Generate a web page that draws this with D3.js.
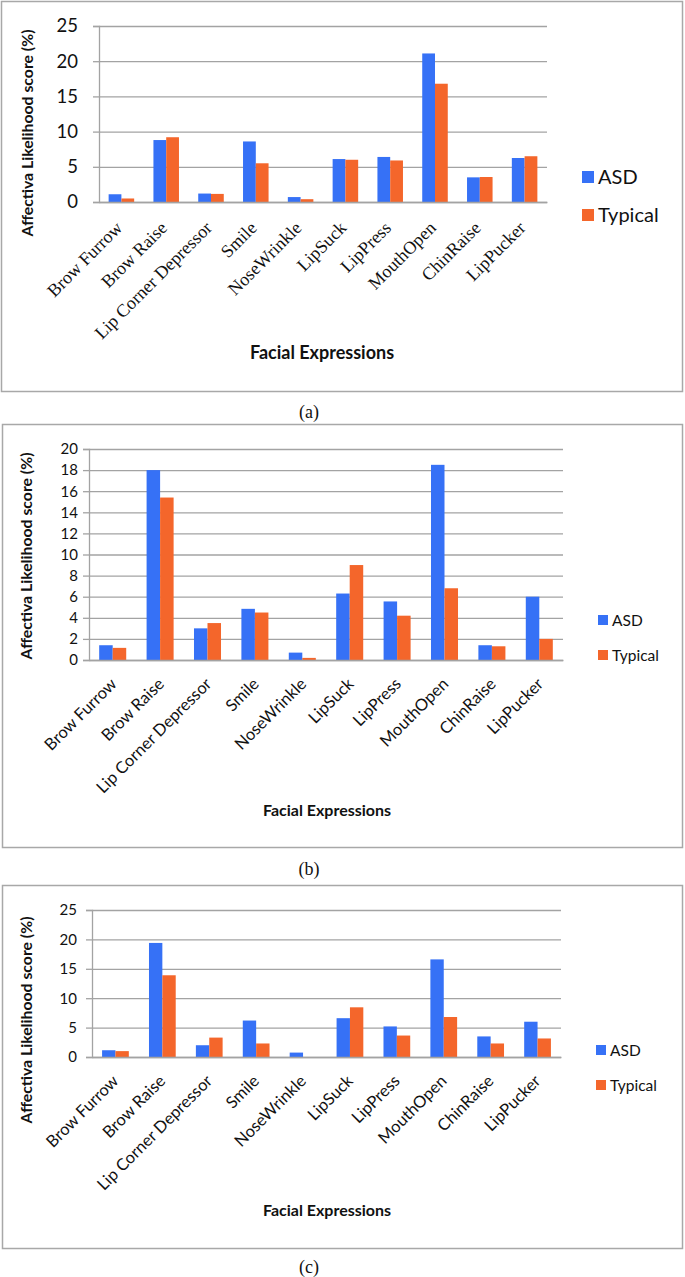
<!DOCTYPE html>
<html>
<head>
<meta charset="utf-8">
<script src="https://cdn.jsdelivr.net/npm/d3@7"></script>
<style>
  body { margin: 0; background: #fff; }
</style>
</head>
<body>
<div id="chart"></div>
<script>
// categories + series values
const categories = ["Brow Furrow", "Brow Raise", "Lip Corner Depressor", "Smile", "NoseWrinkle",
  "LipSuck", "LipPress", "MouthOpen", "ChinRaise", "LipPucker"];
const seriesNames = ["ASD", "Typical"];

const asdA = [1.1, 8.8, 1.2, 8.6, 0.7, 6.1, 6.4, 21.1, 3.5, 6.25];
const typicalA = [0.5, 9.2, 1.15, 5.5, 0.4, 6.0, 5.9, 16.8, 3.55, 6.5];

const asdB = [1.4, 18.0, 3.0, 4.85, 0.7, 6.3, 5.55, 18.5, 1.4, 6.0];
const typicalB = [1.15, 15.4, 3.5, 4.5, 0.2, 9.0, 4.2, 6.8, 1.3, 2.0];

const asdC = [1.15, 19.4, 2.0, 6.2, 0.75, 6.6, 5.2, 16.6, 3.5, 6.0];
const typicalC = [1.0, 13.9, 3.3, 2.3, 0, 8.45, 3.65, 6.8, 2.3, 3.15];

const ticksA = [0, 5, 10, 15, 20, 25];
const ticksB = [0, 2, 4, 6, 8, 10, 12, 14, 16, 18, 20];
const ticksC = [0, 5, 10, 15, 20, 25];

const captions = ["(a)", "(b)", "(c)"];
const yTitle = "Affectiva Likelihood score (%)";
const xTitle = "Facial Expressions";

const colors = ["#3671f6", "#f4662b"];
const sans = "Lato, 'Open Sans', sans-serif";
const serif = "'Liberation Serif', 'Times New Roman', serif";

const width = 685, height = 1277;

const svg = d3.select("#chart").append("svg")
  .attr("width", width)
  .attr("height", height)
  .style("display", "block");

// one panel per chart (a), (b), (c)
const panels = [
  {
    values: [asdA, typicalA], ticks: ticksA, caption: captions[0],
    frame: [1, 1, 681, 390], plot: { left: 99, right: 547, top: 26, bottom: 202 },
    tickSize: 18.5, tickGap: 21, labelFont: serif, labelSize: 18, labelDx: 2, labelDy: 27,
    xTitleX: 322, xTitleY: 359, xTitleSize: 18, yTitleX: 33, yTitleY: 133, yTitleSize: 15.8,
    legendX: 582, legendY: [171, 209], legendBox: 12, legendSize: 20, captionY: 418
  },
  {
    values: [asdB, typicalB], ticks: ticksB, caption: captions[1],
    frame: [2, 424, 680, 423], plot: { left: 89, right: 563, top: 449, bottom: 660 },
    tickSize: 15, tickGap: 11, labelFont: sans, labelSize: 16.5, labelDx: 5, labelDy: 25,
    xTitleX: 327, xTitleY: 816, xTitleSize: 16, yTitleX: 32, yTitleY: 556, yTitleSize: 15.8,
    legendX: 598, legendY: [615, 650], legendBox: 10, legendSize: 15.5, captionY: 875
  },
  {
    values: [asdC, typicalC], ticks: ticksC, caption: captions[2],
    frame: [2, 885, 680, 363], plot: { left: 92, right: 561, top: 910, bottom: 1057 },
    tickSize: 15, tickGap: 15, labelFont: sans, labelSize: 16.5, labelDx: 4, labelDy: 25,
    xTitleX: 327, xTitleY: 1216, xTitleSize: 16, yTitleX: 32, yTitleY: 1020, yTitleSize: 15.8,
    legendX: 596, legendY: [1045, 1080], legendBox: 10, legendSize: 15.5, captionY: 1273
  }
];

panels.forEach(drawPanel);

function drawPanel(p) {
  const g = svg.append("g");

  // outer frame
  g.append("rect")
    .attr("x", p.frame[0] + 0.5)
    .attr("y", p.frame[1] + 0.5)
    .attr("width", p.frame[2])
    .attr("height", p.frame[3])
    .attr("fill", "none")
    .attr("stroke", "#a8a8a8")
    .attr("stroke-width", 1.5);

  const x = d3.scaleBand()
    .domain(categories)
    .range([p.plot.left, p.plot.right]);

  const y = d3.scaleLinear()
    .domain([0, d3.max(p.ticks)])
    .range([p.plot.bottom, p.plot.top]);

  const barW = x.bandwidth() * 0.285;
  const xs = d3.scaleBand()
    .domain(seriesNames)
    .range([(x.bandwidth() - 2 * barW) / 2, (x.bandwidth() + 2 * barW) / 2]);

  // gridlines
  g.append("g")
    .attr("transform", `translate(${p.plot.left},0)`)
    .call(d3.axisLeft(y).tickValues(p.ticks).tickSize(-(p.plot.right - p.plot.left)).tickFormat(""))
    .call(a => a.select(".domain").remove())
    .call(a => a.selectAll("line").attr("stroke", "#a3a3a3").attr("stroke-width", 1.3));

  // y tick marks + labels
  g.append("g")
    .attr("transform", `translate(${p.plot.left},0)`)
    .call(d3.axisLeft(y).tickValues(p.ticks).tickSize(6).tickPadding(p.tickGap - 6))
    .call(a => a.select(".domain").attr("stroke", "#a3a3a3").attr("stroke-width", 1.3))
    .call(a => a.selectAll("line").attr("stroke", "#a3a3a3").attr("stroke-width", 1.3))
    .call(a => a.selectAll("text")
      .attr("fill", "#111")
      .style("font-family", sans)
      .style("font-size", p.tickSize + "px"));

  // bars
  const rows = categories.map((c, i) => ({ cat: c, vals: seriesNames.map((s, j) => ({ s, v: p.values[j][i] })) }));
  g.append("g")
    .selectAll("g")
    .data(rows)
    .join("g")
    .attr("transform", d => `translate(${x(d.cat)},0)`)
    .selectAll("rect")
    .data(d => d.vals)
    .join("rect")
    .attr("x", d => xs(d.s))
    .attr("width", xs.bandwidth())
    .attr("y", d => y(d.v))
    .attr("height", d => y(0) - y(d.v))
    .attr("fill", (d, j) => colors[j]);

  // x axis with rotated labels
  g.append("g")
    .attr("transform", `translate(0,${p.plot.bottom})`)
    .call(d3.axisBottom(x).tickSize(0).tickSizeOuter(0))
    .call(a => a.select(".domain").attr("stroke", "#a3a3a3").attr("stroke-width", 1.3))
    .call(a => a.selectAll("text")
      .attr("x", 0)
      .attr("y", 0)
      .attr("dy", 0)
      .attr("text-anchor", "end")
      .attr("transform", `translate(${p.labelDx},${p.labelDy}) rotate(-45)`)
      .attr("fill", "#111")
      .style("font-family", p.labelFont)
      .style("font-size", p.labelSize + "px"));

  // axis titles
  g.append("text")
    .attr("x", p.xTitleX)
    .attr("y", p.xTitleY)
    .attr("text-anchor", "middle")
    .style("font-family", sans)
    .style("font-weight", "bold")
    .style("font-size", p.xTitleSize + "px")
    .attr("fill", "#111")
    .text(xTitle);

  g.append("text")
    .attr("transform", `translate(${p.yTitleX},${p.yTitleY}) rotate(-90)`)
    .attr("text-anchor", "middle")
    .style("font-family", sans)
    .style("font-weight", "bold")
    .style("font-size", p.yTitleSize + "px")
    .attr("fill", "#111")
    .text(yTitle);

  // legend
  const leg = g.append("g")
    .selectAll("g")
    .data(seriesNames)
    .join("g")
    .attr("transform", (d, i) => `translate(${p.legendX},${p.legendY[i]})`);
  leg.append("rect")
    .attr("width", p.legendBox)
    .attr("height", p.legendBox)
    .attr("fill", (d, i) => colors[i]);
  leg.append("text")
    .attr("x", p.legendBox + 4)
    .attr("y", p.legendBox / 2)
    .attr("dy", "0.36em")
    .style("font-family", sans)
    .style("font-size", p.legendSize + "px")
    .attr("fill", "#111")
    .text(d => d);

  // caption under the frame
  svg.append("text")
    .attr("x", 309)
    .attr("y", p.captionY)
    .attr("text-anchor", "middle")
    .style("font-family", serif)
    .style("font-size", "18px")
    .attr("fill", "#111")
    .text(p.caption);
}
</script>
</body>
</html>
